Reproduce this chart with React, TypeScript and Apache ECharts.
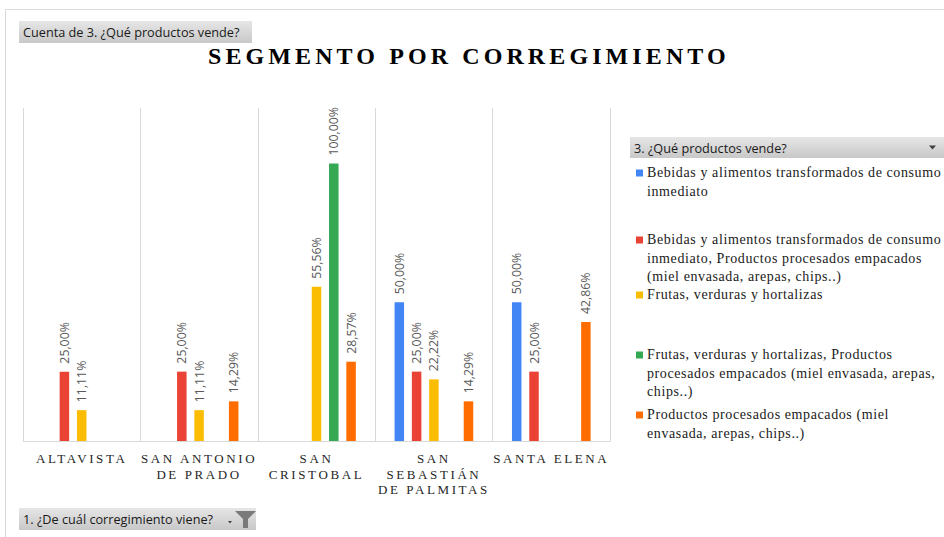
import React, { useEffect, useRef } from 'react';
import * as echarts from 'echarts';

const categories = [
  'ALTAVISTA',
  'SAN ANTONIO\nDE PRADO',
  'SAN\nCRISTOBAL',
  'SAN\nSEBASTIÁN\nDE PALMITAS',
  'SANTA ELENA',
];

const seriesNames = [
  'Bebidas y alimentos transformados de consumo inmediato',
  'Bebidas y alimentos transformados de consumo inmediato, Productos procesados empacados (miel envasada, arepas, chips..)',
  'Frutas, verduras y hortalizas',
  'Frutas, verduras y hortalizas, Productos procesados empacados (miel envasada, arepas, chips..)',
  'Productos procesados empacados (miel envasada, arepas, chips..)',
];

const legendLabels = [
  'Bebidas y alimentos transformados de consumo\ninmediato',
  'Bebidas y alimentos transformados de consumo\ninmediato, Productos procesados empacados\n(miel envasada, arepas, chips..)',
  'Frutas, verduras y hortalizas',
  'Frutas, verduras y hortalizas, Productos\nprocesados empacados (miel envasada, arepas,\nchips..)',
  'Productos procesados empacados (miel\nenvasada, arepas, chips..)',
];

const bebidas = [null, null, null, 0.5, 0.5];
const bebidasProcesados = [0.25, 0.25, null, 0.25, 0.25];
const frutas = [0.1111, 0.1111, 0.5556, 0.2222, null];
const frutasProcesados = [null, null, 1.0, null, null];
const procesados = [null, 0.1429, 0.2857, 0.1429, 0.4286];

const seriesValues = [bebidas, bebidasProcesados, frutas, frutasProcesados, procesados];
const colors = ['#4285F4', '#EA4335', '#FBBC04', '#34A853', '#FF6D01'];

const titleText = 'SEGMENTO POR CORREGIMIENTO';
const valueFieldLabel = 'Cuenta de 3. ¿Qué productos vende?';
const legendTitle = '3. ¿Qué productos vende?';
const axisFieldLabel = '1. ¿De cuál corregimiento viene?';

const legendLineCenters = [173, 240, 295, 355, 415];

const SERIF = 'Liberation Serif';
const SANS = 'Open Sans';

const grayGradient = {
  type: 'linear',
  x: 0,
  y: 0,
  x2: 0,
  y2: 1,
  colorStops: [
    { offset: 0, color: '#e6e6e6' },
    { offset: 1, color: '#c8c8c8' },
  ],
};

export default function App() {
  const ref = useRef<HTMLDivElement>(null);

  useEffect(() => {
    const el = ref.current;
    if (!el) return;
    const chart = echarts.init(el, null, { renderer: 'svg' });

    const legendGraphics: any[] = [];
    legendLabels.forEach((label, i) => {
      const cy = legendLineCenters[i];
      legendGraphics.push({
        type: 'rect',
        shape: { x: 636, y: cy - 3.5, width: 7, height: 7 },
        style: { fill: colors[i] },
        silent: true,
      });
      legendGraphics.push({
        type: 'text',
        x: 647,
        y: cy - 9.15,
        style: {
          text: label,
          fontFamily: SERIF,
          fontSize: 14,
          lineHeight: 18.3,
          fill: '#1a1a1a',
          textAlign: 'left',
          textVerticalAlign: 'top',
        },
        silent: true,
      });
    });

    const sansText = (text: string, x: number, y: number) => ({
      type: 'text',
      x,
      y,
      style: {
        text,
        fontFamily: SANS,
        fontSize: 12.7,
        fill: '#1a1a1a',
        textAlign: 'left',
        textVerticalAlign: 'middle',
      },
      silent: true,
    });

    const option: any = {
      animation: false,
      backgroundColor: '#ffffff',
      title: {
        text: titleText,
        left: 208,
        top: 44,
        padding: 0,
        textStyle: {
          fontFamily: SERIF,
          fontSize: 24,
          fontWeight: 'bold',
          color: '#000000',
          lineHeight: 24,
        },
      },
      grid: { left: 23, right: 334, top: 108, bottom: 96, containLabel: false },
      xAxis: {
        type: 'category',
        data: categories,
        axisLine: { show: true, lineStyle: { color: '#d9d9d9', width: 1 } },
        axisTick: { show: false },
        splitLine: { show: true, lineStyle: { color: '#d9d9d9', width: 1 } },
        axisLabel: {
          interval: 0,
          margin: 10,
          fontFamily: SERIF,
          fontSize: 13,
          lineHeight: 15.5,
          color: '#262626',
        },
      },
      yAxis: {
        type: 'value',
        min: 0,
        max: 1.2,
        show: false,
        splitLine: { show: false },
      },
      series: seriesValues.map((vals, i) => ({
        name: seriesNames[i],
        type: 'bar',
        data: vals,
        barWidth: 9.5,
        barGap: '82%',
        itemStyle: { color: colors[i] },
        emphasis: { disabled: true },
        label: {
          show: true,
          position: 'top',
          rotate: 90,
          align: 'left',
          verticalAlign: 'middle',
          distance: 8,
          fontFamily: SANS,
          fontSize: 12.3,
          color: '#595959',
          formatter: (p: any) =>
            p.value == null ? '' : (p.value * 100).toFixed(2).replace('.', ',') + '%',
        },
      })),
      graphic: [
        {
          type: 'rect',
          shape: { x: 5.5, y: 9.5, width: 960, height: 560 },
          style: { fill: 'none', stroke: '#d9d9d9', lineWidth: 1 },
          silent: true,
          z: -10,
        },
        {
          type: 'rect',
          shape: { x: 19, y: 21, width: 233, height: 22 },
          style: { fill: grayGradient },
          silent: true,
        },
        sansText(valueFieldLabel, 23, 32),
        {
          type: 'rect',
          shape: { x: 630, y: 137, width: 314, height: 21 },
          style: { fill: grayGradient },
          silent: true,
        },
        sansText(legendTitle, 634, 147.5),
        {
          type: 'polygon',
          shape: { points: [[929, 145.5], [936, 145.5], [932.5, 149.5]] },
          style: { fill: '#404040' },
          silent: true,
        },
        {
          type: 'rect',
          shape: { x: 19, y: 508, width: 237, height: 22 },
          style: { fill: grayGradient },
          silent: true,
        },
        sansText(axisFieldLabel, 23, 519),
        {
          type: 'polygon',
          shape: { points: [[228, 521], [232, 521], [230, 523.5]] },
          style: { fill: '#404040' },
          silent: true,
        },
        {
          type: 'polygon',
          shape: {
            points: [
              [235, 511],
              [256, 511],
              [248, 519],
              [248, 528],
              [243, 528],
              [243, 519],
            ],
          },
          style: { fill: '#7a7a7a' },
          silent: true,
        },
        ...legendGraphics,
      ],
    };

    const applySpacing = () => {
      el.querySelectorAll('text').forEach((t) => {
        const cs = getComputedStyle(t);
        if (!cs.fontFamily.includes('Liberation Serif')) return;
        const size = parseFloat(cs.fontSize);
        const w = cs.fontWeight;
        if (w === '700' || w === 'bold') {
          (t as any).style.letterSpacing = '4.1px';
        } else if (size < 13.5) {
          (t as any).style.letterSpacing = '2.6px';
        } else {
          (t as any).style.letterSpacing = '0.6px';
        }
      });
    };

    chart.setOption(option);
    applySpacing();
    chart.on('finished', applySpacing);

    return () => {
      chart.dispose();
    };
  }, []);

  return (
    <div
      ref={ref}
      style={{
        position: 'fixed',
        left: 0,
        top: 0,
        width: 944,
        height: 537,
        background: '#ffffff',
      }}
    />
  );
}
